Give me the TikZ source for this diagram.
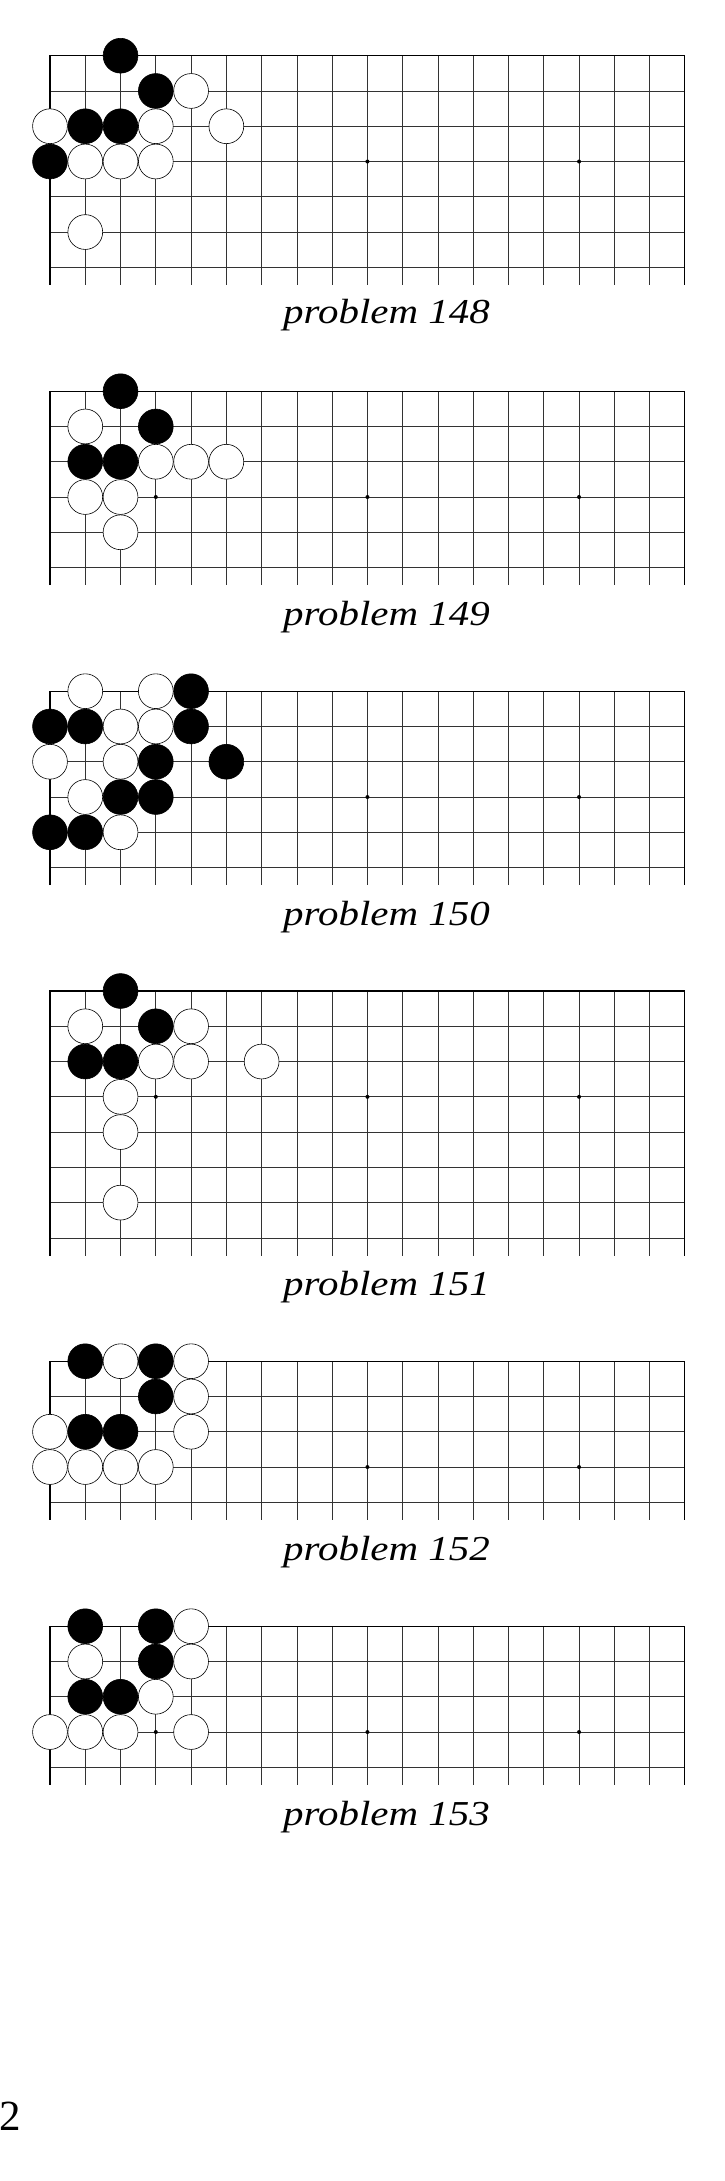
\documentclass[tikz,border=0pt]{standalone}
\usepackage{fontspec}
\setmainfont{Liberation Serif}

% 19 columns, rows 0..#1, open below the last row
\newcommand{\gogrid}[1]{%
    \foreach \row in {0,...,#1} \draw[gridline] (0,\row) -- (18,\row);
    \foreach \col in {1,...,17} \draw[gridline] (\col,0) -- (\col,#1.5);
    \draw[boardedge] (0,#1.5) -- (0,0) -- (18,0) -- (18,#1.5);
    \foreach \col in {3,9,15} \fill[hoshi] (\col,3) circle;
}
\newcommand{\problabel}[1]{\scalebox{1.17}[1]{problem #1}}

\begin{document}
\begin{tikzpicture}[
    x=1pt, y=-1pt,
    gridline/.style={
        line width=0.75pt,
        black!80
    },
    boardedge/.style={
        line width=1.1pt,
        black
    },
    hoshi/.style={
        fill=black,
        radius=2pt
    },
    bstone/.style={
        draw=black,
        fill=black,
        line width=0.6pt,
        radius=17.4pt
    },
    wstone/.style={
        draw=black,
        fill=white,
        line width=0.6pt,
        radius=17.4pt
    },
    caption/.style={
        font=\fontsize{35}{40}\selectfont\itshape,
        anchor=base,
        inner sep=0pt
    },
    pagenum/.style={
        font=\fontsize{43}{50}\selectfont,
        anchor=base west,
        inner sep=0pt
    }
]

\path[use as bounding box, fill=white] (0,0) rectangle (725,2181);

% Problem 148
\begin{scope}[shift={(50,55.7)}, x=35.27pt, y=-35.27pt]
    \gogrid{6}
    \foreach \col/\row in {2/0,3/1,1/2,2/2,0/3} \draw[bstone] (\col,\row) circle;
    \foreach \col/\row in {4/1,0/2,3/2,5/2,1/3,2/3,3/3,1/5} \draw[wstone] (\col,\row) circle;
\end{scope}
\node[caption] (cap148) at (386.5,323.3) {\problabel{148}};

% Problem 149
\begin{scope}[shift={(50,391.2)}, x=35.27pt, y=-35.27pt]
    \gogrid{5}
    \foreach \col/\row in {2/0,3/1,1/2,2/2} \draw[bstone] (\col,\row) circle;
    \foreach \col/\row in {1/1,3/2,4/2,5/2,1/3,2/3,2/4} \draw[wstone] (\col,\row) circle;
\end{scope}
\node[caption] (cap149) at (386.5,625.5) {\problabel{149}};

% Problem 150
\begin{scope}[shift={(50,691.2)}, x=35.27pt, y=-35.27pt]
    \gogrid{5}
    \foreach \col/\row in {4/0,0/1,1/1,4/1,3/2,5/2,2/3,3/3,0/4,1/4} \draw[bstone] (\col,\row) circle;
    \foreach \col/\row in {1/0,3/0,2/1,3/1,0/2,2/2,1/3,2/4} \draw[wstone] (\col,\row) circle;
\end{scope}
\node[caption] (cap150) at (386.5,925.5) {\problabel{150}};

% Problem 151
\begin{scope}[shift={(50,991)}, x=35.27pt, y=-35.27pt]
    \gogrid{7}
    \foreach \col/\row in {2/0,3/1,1/2,2/2} \draw[bstone] (\col,\row) circle;
    \foreach \col/\row in {1/1,4/1,3/2,4/2,6/2,2/3,2/4,2/6} \draw[wstone] (\col,\row) circle;
\end{scope}
\node[caption] (cap151) at (386.5,1295.3) {\problabel{151}};

% Problem 152
\begin{scope}[shift={(50,1361.2)}, x=35.27pt, y=-35.27pt]
    \gogrid{4}
    \foreach \col/\row in {1/0,3/0,3/1,1/2,2/2} \draw[bstone] (\col,\row) circle;
    \foreach \col/\row in {2/0,4/0,4/1,0/2,4/2,0/3,1/3,2/3,3/3} \draw[wstone] (\col,\row) circle;
\end{scope}
\node[caption] (cap152) at (386.5,1560.3) {\problabel{152}};

% Problem 153
\begin{scope}[shift={(50,1626.2)}, x=35.27pt, y=-35.27pt]
    \gogrid{4}
    \foreach \col/\row in {1/0,3/0,3/1,1/2,2/2} \draw[bstone] (\col,\row) circle;
    \foreach \col/\row in {4/0,1/1,4/1,3/2,0/3,1/3,2/3,4/3} \draw[wstone] (\col,\row) circle;
\end{scope}
\node[caption] (cap153) at (386.5,1825.3) {\problabel{153}};

% Page number
\node[pagenum] (pageno) at (-1,2130.5) {2};

\end{tikzpicture}
\end{document}
